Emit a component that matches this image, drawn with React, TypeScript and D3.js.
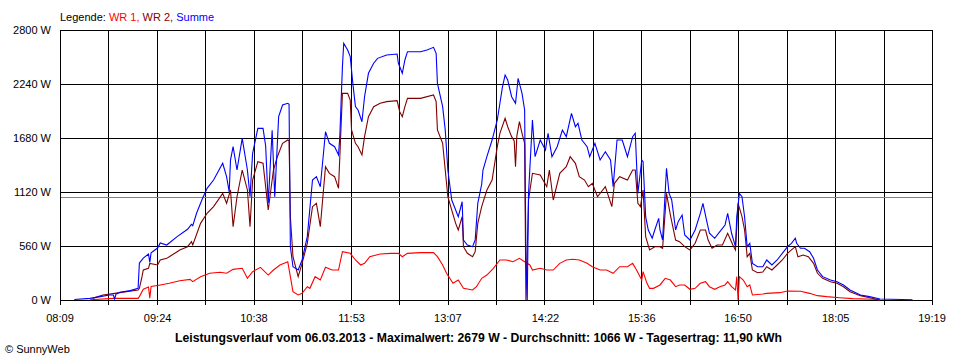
import React from "react";
import * as d3 from "d3";

// ---- Data (time "HH:MM", power in W) ----
const xTickLabels = ["08:09", "09:24", "10:38", "11:53", "13:07", "14:22", "15:36", "16:50", "18:05", "19:19"];
const yTickValues = [0, 560, 1120, 1680, 2240, 2800];
const startTime = "08:09";
const endTime = "19:19";
const averageWatts = 1066;

const legendItems = [
  { label: "WR 1,", color: "#ff0000" },
  { label: "WR 2,", color: "#800000" },
  { label: "Summe", color: "#0000ff" },
];

const wr1: [string, number][] = [
  ["08:32", 2], ["08:50", 17], ["09:09", 17], ["09:10", 35], ["09:13", 111], ["09:17", 135], ["09:18", 20], ["09:19", 140],
  ["09:26", 156], ["09:33", 173], ["09:41", 200], ["09:49", 214], ["09:51", 190], ["09:57", 242], ["10:04", 277],
  ["10:12", 287], ["10:17", 277], ["10:22", 318], ["10:29", 329], ["10:33", 225], ["10:37", 294], ["10:43", 339],
  ["10:49", 259], ["10:53", 311], ["10:58", 363], ["11:04", 397], ["11:06", 242], ["11:08", 86], ["11:12", 52],
  ["11:15", 69], ["11:19", 138], ["11:21", 121], ["11:25", 242], ["11:29", 207], ["11:33", 339], ["11:38", 311],
  ["11:43", 311], ["11:46", 501], ["11:52", 484], ["11:56", 415], ["12:00", 363], ["12:03", 380], ["12:07", 449],
  ["12:15", 477], ["12:23", 484], ["12:29", 484], ["12:32", 449], ["12:36", 484], ["12:46", 491], ["12:56", 491],
  ["12:59", 449], ["13:03", 363], ["13:06", 277], ["13:11", 173], ["13:15", 207], ["13:19", 121], ["13:26", 104],
  ["13:29", 138], ["13:33", 225], ["13:37", 259], ["13:42", 329], ["13:47", 415], ["13:52", 415], ["13:57", 397],
  ["14:02", 432], ["14:06", 397], ["14:10", 363], ["14:12", 311], ["14:18", 329], ["14:23", 311], ["14:28", 311],
  ["14:33", 380], ["14:38", 415], ["14:43", 422], ["14:48", 415], ["14:54", 380], ["14:58", 345], ["15:04", 311],
  ["15:09", 311], ["15:14", 277], ["15:19", 345], ["15:25", 345], ["15:29", 380], ["15:32", 311], ["15:36", 207],
  ["15:37", 294], ["15:40", 173], ["15:42", 121], ["15:45", 121], ["15:50", 156], ["15:54", 225], ["15:58", 207],
  ["16:02", 138], ["16:05", 156], ["16:09", 156], ["16:13", 111], ["16:17", 121], ["16:21", 173], ["16:25", 190],
  ["16:28", 138], ["16:32", 111], ["16:36", 138], ["16:40", 156], ["16:42", 190], ["16:45", 138], ["16:48", 104],
  ["16:49", 242], ["16:50", 0], ["16:51", 242], ["16:54", 207], ["16:57", 138], ["16:59", 156], ["17:01", 52],
  ["17:09", 62], ["17:12", 69], ["17:22", 76], ["17:28", 93], ["17:38", 90], ["17:45", 69], ["17:51", 45],
  ["17:58", 35], ["18:08", 24], ["18:18", 14], ["18:34", 7], ["18:39", 0],
];

const wr2: [string, number][] = [
  ["08:34", 17], ["08:42", 52], ["08:51", 69], ["09:09", 104], ["09:10", 121], ["09:12", 242], ["09:13", 311],
  ["09:17", 329], ["09:18", 380], ["09:24", 363], ["09:26", 415], ["09:31", 432], ["09:33", 449], ["09:39", 501],
  ["09:41", 519], ["09:47", 553], ["09:49", 588], ["09:50", 605], ["09:51", 570], ["09:57", 795], ["10:02", 899],
  ["10:07", 968], ["10:14", 1106], ["10:17", 1003], ["10:20", 1141], ["10:22", 760], ["10:25", 1071], ["10:29", 1348],
  ["10:33", 1141], ["10:35", 760], ["10:37", 1244], ["10:41", 1434], ["10:45", 1418], ["10:49", 933], ["10:53", 1348],
  ["10:56", 1486], ["11:00", 1625], ["11:04", 1659], ["11:05", 1650], ["11:06", 864], ["11:08", 449], ["11:12", 242],
  ["11:15", 380], ["11:19", 588], ["11:23", 968], ["11:26", 1003], ["11:29", 760], ["11:33", 1382], ["11:36", 1313],
  ["11:40", 1279], ["11:43", 1158], ["11:44", 1486], ["11:46", 2143], ["11:50", 2143], ["11:52", 2074], ["11:53", 1763],
  ["11:56", 1625], ["11:58", 1590], ["12:01", 1504], ["12:03", 1694], ["12:06", 1901], ["12:10", 2005], ["12:15", 2040],
  ["12:20", 2057], ["12:28", 2067], ["12:30", 1953], ["12:32", 1901], ["12:34", 2005], ["12:36", 2091], ["12:46", 2091],
  ["12:56", 2126], ["12:58", 2057], ["12:59", 1763], ["13:03", 1625], ["13:05", 1348], ["13:07", 1071], ["13:10", 933],
  ["13:13", 795], ["13:15", 726], ["13:18", 864], ["13:19", 553], ["13:22", 484], ["13:26", 449], ["13:28", 501],
  ["13:30", 795], ["13:33", 968], ["13:37", 1141], ["13:41", 1244], ["13:45", 1590], ["13:47", 1729], ["13:51", 1884],
  ["13:53", 1797], ["13:56", 1694], ["13:58", 1650], ["13:59", 1382], ["14:00", 1700], ["14:02", 1849], ["14:04", 1729],
  ["14:06", 1625], ["14:07", 0], ["14:09", 1037], ["14:12", 1314], ["14:18", 1296], ["14:23", 1175], ["14:25", 1348],
  ["14:28", 1037], ["14:33", 1314], ["14:38", 1382], ["14:41", 1486], ["14:45", 1417], ["14:48", 1279], ["14:52", 1244],
  ["14:55", 1175], ["14:58", 1210], ["15:02", 1071], ["15:08", 1175], ["15:13", 968], ["15:15", 1210], ["15:19", 1279],
  ["15:25", 1244], ["15:29", 1348], ["15:31", 1348], ["15:33", 1003], ["15:35", 968], ["15:37", 1141], ["15:39", 657],
  ["15:42", 519], ["15:46", 553], ["15:50", 553], ["15:52", 536], ["15:55", 1106], ["15:58", 881], ["16:02", 622],
  ["16:05", 605], ["16:09", 553], ["16:13", 519], ["16:17", 588], ["16:21", 726], ["16:25", 726], ["16:27", 622],
  ["16:30", 536], ["16:34", 570], ["16:38", 570], ["16:42", 692], ["16:46", 570], ["16:48", 519], ["16:50", 1003],
  ["16:53", 864], ["16:55", 726], ["16:57", 449], ["16:59", 484], ["17:01", 311], ["17:05", 283], ["17:09", 290],
  ["17:12", 345], ["17:16", 311], ["17:20", 363], ["17:24", 415], ["17:28", 484], ["17:31", 519], ["17:34", 553],
  ["17:36", 449], ["17:40", 467], ["17:44", 449], ["17:48", 380], ["17:51", 277], ["17:55", 225], ["18:01", 190],
  ["18:06", 173], ["18:11", 138], ["18:16", 86], ["18:24", 45], ["18:31", 24], ["18:39", 0],
];

const summe: [string, number][] = [
  ["08:20", 5], ["08:32", 17], ["08:40", 35], ["08:47", 52], ["08:50", 52], ["08:51", 10], ["08:52", 60], ["08:55", 80],
  ["09:03", 97], ["09:09", 121], ["09:10", 383], ["09:13", 435], ["09:17", 477], ["09:18", 390], ["09:19", 490],
  ["09:24", 539], ["09:26", 591], ["09:31", 570], ["09:39", 657], ["09:47", 733], ["09:50", 785], ["09:51", 771],
  ["09:54", 902], ["09:58", 1037], ["10:02", 1158], ["10:07", 1244], ["10:14", 1418], ["10:17", 1279], ["10:19", 1120],
  ["10:20", 1450], ["10:22", 1590], ["10:25", 1348], ["10:29", 1677], ["10:33", 1348], ["10:35", 1071], ["10:37", 1521],
  ["10:41", 1780], ["10:45", 1780], ["10:47", 1600], ["10:49", 1006], ["10:52", 1760], ["10:54", 1071], ["10:57", 1901],
  ["11:00", 2022], ["11:04", 2040], ["11:05", 2030], ["11:06", 553], ["11:08", 345], ["11:12", 311], ["11:15", 415],
  ["11:19", 657], ["11:23", 1244], ["11:26", 1279], ["11:29", 1175], ["11:33", 1745], ["11:36", 1625], ["11:40", 1590],
  ["11:43", 1504], ["11:44", 1694], ["11:46", 2420], ["11:47", 2662], ["11:50", 2593], ["11:52", 2524], ["11:53", 2385],
  ["11:54", 2247], ["11:56", 2005], ["11:58", 1970], ["12:01", 1849], ["12:03", 2108], ["12:06", 2351], ["12:10", 2455],
  ["12:13", 2506], ["12:20", 2541], ["12:28", 2551], ["12:29", 2455], ["12:32", 2351], ["12:34", 2489], ["12:36", 2575],
  ["12:46", 2575], ["12:51", 2593], ["12:56", 2620], ["12:58", 2558], ["12:59", 2247], ["13:03", 2005], ["13:05", 1763],
  ["13:07", 1348], ["13:10", 1037], ["13:13", 933], ["13:15", 864], ["13:18", 1019], ["13:19", 622], ["13:22", 570],
  ["13:26", 553], ["13:28", 622], ["13:30", 1003], ["13:33", 1200], ["13:34", 1348], ["13:37", 1486], ["13:41", 1659],
  ["13:45", 1867], ["13:49", 2212], ["13:51", 2333], ["13:53", 2281], ["13:56", 2108], ["13:59", 2040], ["14:01", 2299],
  ["14:04", 2143], ["14:06", 1970], ["14:07", 415], ["14:08", 0], ["14:09", 1106], ["14:12", 1867], ["14:14", 1486],
  ["14:18", 1659], ["14:22", 1555], ["14:24", 1729], ["14:27", 1486], ["14:31", 1590], ["14:35", 1763], ["14:38", 1694],
  ["14:42", 1936], ["14:45", 1797], ["14:47", 1832], ["14:50", 1659], ["14:54", 1590], ["14:56", 1486], ["15:00", 1625],
  ["15:04", 1452], ["15:08", 1538], ["15:12", 1452], ["15:14", 1175], ["15:17", 1659], ["15:21", 1659], ["15:25", 1486],
  ["15:29", 1694], ["15:31", 1729], ["15:33", 1106], ["15:36", 1452], ["15:37", 1434], ["15:39", 864], ["15:41", 726],
  ["15:44", 640], ["15:46", 726], ["15:49", 847], ["15:50", 726], ["15:52", 622], ["15:55", 1366], ["15:57", 1106],
  ["15:59", 1037], ["16:02", 726], ["16:04", 812], ["16:07", 881], ["16:09", 674], ["16:13", 622], ["16:17", 726],
  ["16:21", 899], ["16:23", 1003], ["16:26", 812], ["16:28", 692], ["16:32", 640], ["16:36", 709], ["16:40", 778],
  ["16:42", 899], ["16:45", 692], ["16:48", 553], ["16:49", 864], ["16:51", 1106], ["16:53", 1071], ["16:55", 864],
  ["16:57", 553], ["16:59", 588], ["17:01", 380], ["17:05", 345], ["17:09", 345], ["17:12", 415], ["17:16", 363],
  ["17:20", 415], ["17:24", 484], ["17:28", 553], ["17:31", 588], ["17:34", 640], ["17:35", 588], ["17:38", 536],
  ["17:41", 536], ["17:45", 501], ["17:48", 432], ["17:51", 311], ["17:55", 242], ["18:01", 207], ["18:06", 190],
  ["18:11", 156], ["18:16", 104], ["18:24", 52], ["18:31", 35], ["18:39", 10], ["19:04", 2],
];

const legendTitle = "Legende:";
const chartTitle =
  "Leistungsverlauf vom 06.03.2013 - Maximalwert: 2679 W - Durchschnitt: 1066 W - Tagesertrag: 11,90 kWh";
const copyright = "© SunnyWeb";

const series = [
  { data: wr1, color: "#ff0000" },
  { data: wr2, color: "#800000" },
  { data: summe, color: "#0000ff" },
];

const toMin = (s: string) => {
  const [h, m] = s.split(":").map(Number);
  return h * 60 + m;
};

export default function App() {
  const W = 960;
  const H = 360;
  const left = 60;
  const right = 932;
  const top = 30;
  const bottom = 300;
  const font = "'Liberation Sans', Arial, sans-serif";

  const x = d3.scaleLinear().domain([toMin(startTime), toMin(endTime)]).range([left, right]);
  const y = d3.scaleLinear().domain([0, 2800]).range([bottom, top]);

  const nMinor = (xTickLabels.length - 1) * 2;
  const vTicks = d3.range(nMinor + 1).map((i) => toMin(startTime) + (i * (toMin(endTime) - toMin(startTime))) / nMinor);

  const line = d3
    .line<[string, number]>()
    .x((d) => x(toMin(d[0])))
    .y((d) => y(d[1]));

  const px = (v: number) => Math.round(v) + 0.5;

  return (
    <svg
      width={W}
      height={H}
      style={{ position: "absolute", left: 0, top: 0, display: "block", background: "#fff" }}
      fontFamily={font}
    >
      <rect x={0} y={0} width={W} height={H} fill="#fff" />
      {/* vertical grid + tick marks */}
      {vTicks.map((t, i) => (
        <line key={"v" + i} x1={px(x(t))} x2={px(x(t))} y1={top} y2={bottom + 5} stroke="#000" strokeWidth={1} />
      ))}
      {/* horizontal grid */}
      {yTickValues.map((v) => (
        <line key={"h" + v} x1={left} x2={right + 1} y1={px(y(v))} y2={px(y(v))} stroke="#000" strokeWidth={1} />
      ))}
      {/* average line */}
      <line x1={left + 1} x2={right} y1={px(y(averageWatts))} y2={px(y(averageWatts))} stroke="#808080" strokeWidth={1} />
      {/* series */}
      {series.map((s, i) => (
        <path key={"s" + i} d={line(s.data) || ""} fill="none" stroke={s.color} strokeWidth={1.1} strokeLinejoin="miter" />
      ))}
      {/* y labels */}
      {yTickValues.map((v) => (
        <text key={"yl" + v} x={51} y={y(v) + 4} textAnchor="end" fontSize={11} fill="#000">
          {v} W
        </text>
      ))}
      {/* x labels */}
      {xTickLabels.map((l) => (
        <text key={"xl" + l} x={x(toMin(l))} y={322} textAnchor="middle" fontSize={11} fill="#000">
          {l}
        </text>
      ))}
      {/* legend */}
      <text x={60} y={21} fontSize={11}>
        <tspan fill="#000">{legendTitle} </tspan>
        {legendItems.map((it, i) => (
          <tspan key={"lg" + i} fill={it.color}>
            {it.label}
            {i < legendItems.length - 1 ? " " : ""}
          </tspan>
        ))}
      </text>
      {/* title */}
      <text
        x={175}
        y={342}
        fontSize={12}
        fontWeight="bold"
        fill="#000"
        textLength={607}
        lengthAdjust="spacingAndGlyphs"
      >
        {chartTitle}
      </text>
      <text x={5} y={353} fontSize={11} fill="#000">
        {copyright}
      </text>
    </svg>
  );
}
